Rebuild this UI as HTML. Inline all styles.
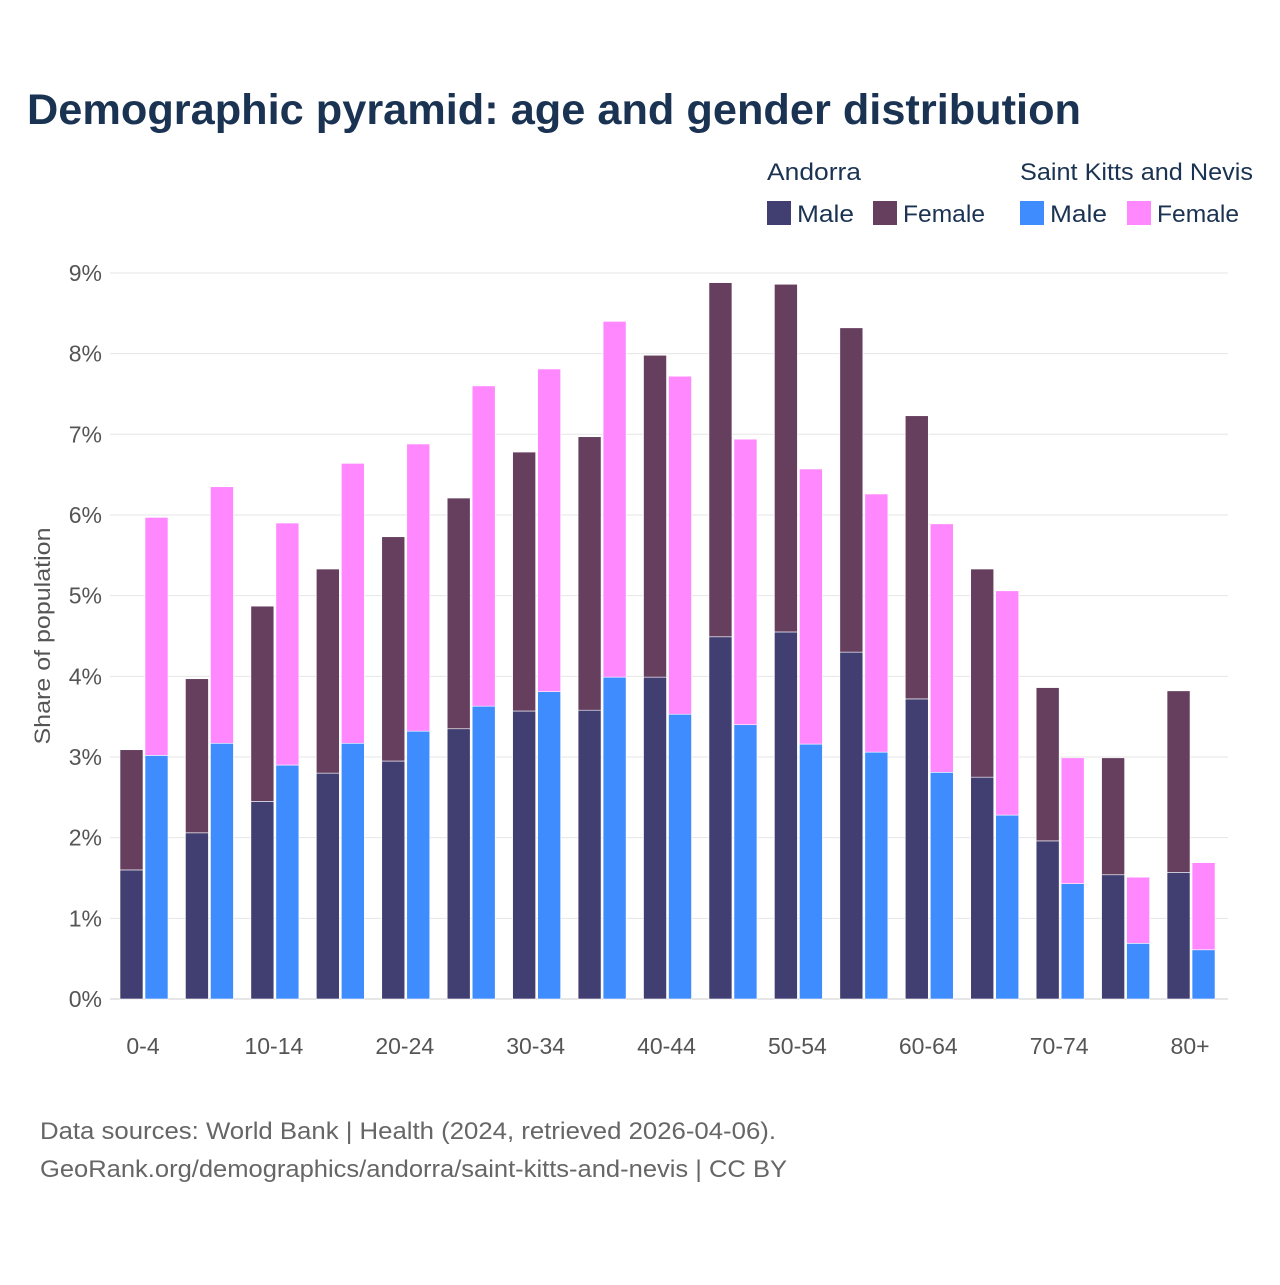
<!DOCTYPE html>
<html><head><meta charset="utf-8"><style>
body{margin:0;background:#fff;font-family:"Liberation Sans",sans-serif;}
</style></head><body>
<svg width="1280" height="1280" xmlns="http://www.w3.org/2000/svg">
<text x="27" y="124" font-size="43" font-weight="bold" fill="#1b3352" textLength="1054" lengthAdjust="spacingAndGlyphs">Demographic pyramid: age and gender distribution</text>
<g font-size="24" fill="#1b3352">
<text x="767" y="180" textLength="94" lengthAdjust="spacingAndGlyphs">Andorra</text>
<text x="1020" y="180" textLength="233" lengthAdjust="spacingAndGlyphs">Saint Kitts and Nevis</text>
<rect x="767" y="201" width="24" height="24" fill="#413F72"/>
<text x="797" y="222" textLength="57" lengthAdjust="spacingAndGlyphs">Male</text>
<rect x="873" y="201" width="24" height="24" fill="#663F5F"/>
<text x="903" y="222" textLength="82" lengthAdjust="spacingAndGlyphs">Female</text>
<rect x="1020" y="201" width="24" height="24" fill="#3F8CFF"/>
<text x="1050" y="222" textLength="57" lengthAdjust="spacingAndGlyphs">Male</text>
<rect x="1127" y="201" width="24" height="24" fill="#FF88FF"/>
<text x="1157" y="222" textLength="82" lengthAdjust="spacingAndGlyphs">Female</text>
</g>
<g id="grid"></g>
<g id="bars"></g>
<g id="xlabels" font-size="23" fill="#555" text-anchor="middle"></g>
<text transform="translate(50,636) rotate(-90)" font-size="22" fill="#555" text-anchor="middle" textLength="217" lengthAdjust="spacingAndGlyphs">Share of population</text>
<text x="40" y="1139" font-size="24" fill="#666" textLength="736" lengthAdjust="spacingAndGlyphs">Data sources: World Bank | Health (2024, retrieved 2026-04-06).</text>
<text x="40" y="1177" font-size="24" fill="#666" textLength="747" lengthAdjust="spacingAndGlyphs">GeoRank.org/demographics/andorra/saint-kitts-and-nevis | CC BY</text>
</svg>
<script>
const categories=["0-4","5-9","10-14","15-19","20-24","25-29","30-34","35-39","40-44","45-49","50-54","55-59","60-64","65-69","70-74","75-79","80+"];
const andMale=[1.60,2.06,2.45,2.80,2.95,3.35,3.57,3.58,3.99,4.49,4.55,4.30,3.72,2.75,1.96,1.54,1.57];
const andFemale=[1.49,1.91,2.42,2.53,2.78,2.86,3.21,3.39,3.99,4.39,4.31,4.02,3.51,2.58,1.90,1.45,2.25];
const sknMale=[3.02,3.17,2.90,3.17,3.32,3.63,3.81,3.99,3.53,3.40,3.16,3.06,2.81,2.28,1.43,0.69,0.61];
const sknFemale=[2.95,3.18,3.00,3.47,3.56,3.97,4.00,4.41,4.19,3.54,3.41,3.20,3.08,2.78,1.56,0.82,1.08];
const yTicks=[0,1,2,3,4,5,6,7,8,9];
const NS="http://www.w3.org/2000/svg";
const y=v=>999-v*80.67;
const xc=i=>143+i*65.44;
const grid=document.getElementById('grid');
yTicks.forEach(t=>{
 const l=document.createElementNS(NS,'line');
 l.setAttribute('x1',110);l.setAttribute('x2',1228);l.setAttribute('y1',y(t));l.setAttribute('y2',y(t));
 l.setAttribute('stroke',t===0?'#ccc':'#e6e6e6');l.setAttribute('stroke-width',1);
 
 
 grid.appendChild(l);
 const tx=document.createElementNS(NS,'text');
 tx.setAttribute('x',102);tx.setAttribute('y',y(t)+8);tx.setAttribute('text-anchor','end');
 tx.setAttribute('font-size',23);tx.setAttribute('fill','#555');tx.textContent=t+'%';
 
 
 grid.appendChild(tx);
});
const bars=document.getElementById('bars');
function rect(x,v0,v1,w,c,n){
 const r=document.createElementNS(NS,'rect');
 r.setAttribute('x',x);r.setAttribute('y',y(v1));r.setAttribute('width',w);r.setAttribute('height',y(v0)-y(v1));
 r.setAttribute('fill',c);r.setAttribute('stroke','#fff');r.setAttribute('stroke-width',0.6);
 
 
 bars.appendChild(r);
}
categories.forEach((c,i)=>{
 const x=xc(i);
 rect(x-23,0,andMale[i],23,'#413F72','bar-andorra-male');
 rect(x-23,andMale[i],andMale[i]+andFemale[i],23,'#663F5F','bar-andorra-female');
 rect(x+2,0,sknMale[i],23,'#3F8CFF','bar-skn-male');
 rect(x+2,sknMale[i],sknMale[i]+sknFemale[i],23,'#FF88FF','bar-skn-female');
 if(i%2===0){
  const t=document.createElementNS(NS,'text');
  t.setAttribute('x',x);t.setAttribute('y',1054);t.textContent=c;
  
  
  document.getElementById('xlabels').appendChild(t);
 }
});
</script>
</body></html>
